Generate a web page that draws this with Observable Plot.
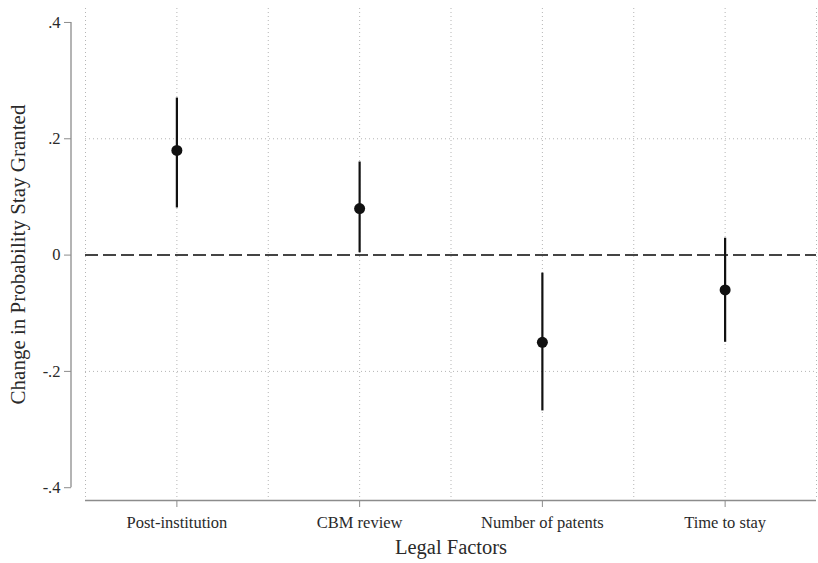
<!DOCTYPE html>
<html>
<head>
<meta charset="utf-8">
<script src="https://cdn.jsdelivr.net/npm/d3@7"></script>
<script src="https://cdn.jsdelivr.net/npm/@observablehq/plot@0.6"></script>
<style>
  html, body { margin: 0; padding: 0; background: #fff; }
  #chart svg { display: block; }
</style>
</head>
<body>
<div id="chart"></div>
<script>
// Data
const categories = ["Post-institution", "CBM review", "Number of patents", "Time to stay"];
const estimates  = [0.18, 0.08, -0.15, -0.06];
const lowerCI    = [0.081, 0.004, -0.268, -0.15];
const upperCI    = [0.27, 0.16, -0.031, 0.029];
const yTicks     = [-0.4, -0.2, 0, 0.2, 0.4];
const yTickLabels = ["-.4", "-.2", "0", ".2", ".4"];
const xLabel = "Legal Factors";
const yLabel = "Change in Probability Stay Granted";

const data = categories.map((c, i) => ({i, cat: c, est: estimates[i], lo: lowerCI[i], hi: upperCI[i]}));
const catIdx = categories.map((_, i) => i);
const halfSteps = d3.range(-0.5, categories.length, 0.5);
const yDomain = [-0.422, 0.424];
const font = "'Liberation Serif', 'Times New Roman', serif";

const ySpine = (index, scales, values, dims) => {
  const g = d3.create("svg:g");
  const x0 = dims.marginLeft - 14;
  g.append("line")
    .attr("x1", x0).attr("x2", x0)
    .attr("y1", scales.y(yTicks[0])).attr("y2", scales.y(yTicks[yTicks.length - 1]))
    .attr("stroke", "#8c8c8c").attr("stroke-width", 1.3);
  return g.node();
};

const chart = Plot.plot({
  width: 818,
  height: 563,
  marginTop: 8,
  marginBottom: 63,
  marginLeft: 85,
  marginRight: 2,
  style: {fontFamily: font, background: "#fff"},
  x: {type: "linear", domain: [-0.5, categories.length - 0.5]},
  y: {domain: yDomain},
  marks: [
    Plot.gridX(halfSteps, {stroke: "#b5b5b5", strokeOpacity: 1, strokeDasharray: "1,3", strokeWidth: 1}),
    Plot.gridY([-0.2, 0.2], {stroke: "#b5b5b5", strokeOpacity: 1, strokeDasharray: "1,3", strokeWidth: 1}),
    Plot.ruleY([0], {stroke: "#444", strokeWidth: 2, strokeDasharray: "13,5"}),
    Plot.ruleY([yDomain[0]], {stroke: "#8c8c8c", strokeWidth: 1.3}),
    ySpine,
    Plot.axisX(catIdx, {
      tickFormat: i => categories[i], tickSize: 7, tickPadding: 9,
      stroke: "#8c8c8c", fill: "#2a2a2a", fontSize: 16.5, label: null
    }),
    Plot.axisY(yTicks, {
      tickFormat: (d) => yTickLabels[yTicks.indexOf(d)], tickSize: 7, tickPadding: 4, dx: -14,
      stroke: "#8c8c8c", fill: "#2a2a2a", fontSize: 16.5, label: null
    }),
    Plot.ruleX(data, {x: "i", y1: "lo", y2: "hi", stroke: "#111", strokeWidth: 2.2}),
    Plot.dot(data, {x: "i", y: "est", r: 5.5, fill: "#111", stroke: "none"}),
    Plot.text([xLabel], {frameAnchor: "bottom", dy: 53, fontSize: 20.5, fill: "#2a2a2a"}),
    Plot.text([yLabel], {frameAnchor: "left", textAnchor: "middle", dx: -67, rotate: -90, fontSize: 21, fill: "#2a2a2a"})
  ]
});
document.getElementById("chart").appendChild(chart);
</script>
</body>
</html>
